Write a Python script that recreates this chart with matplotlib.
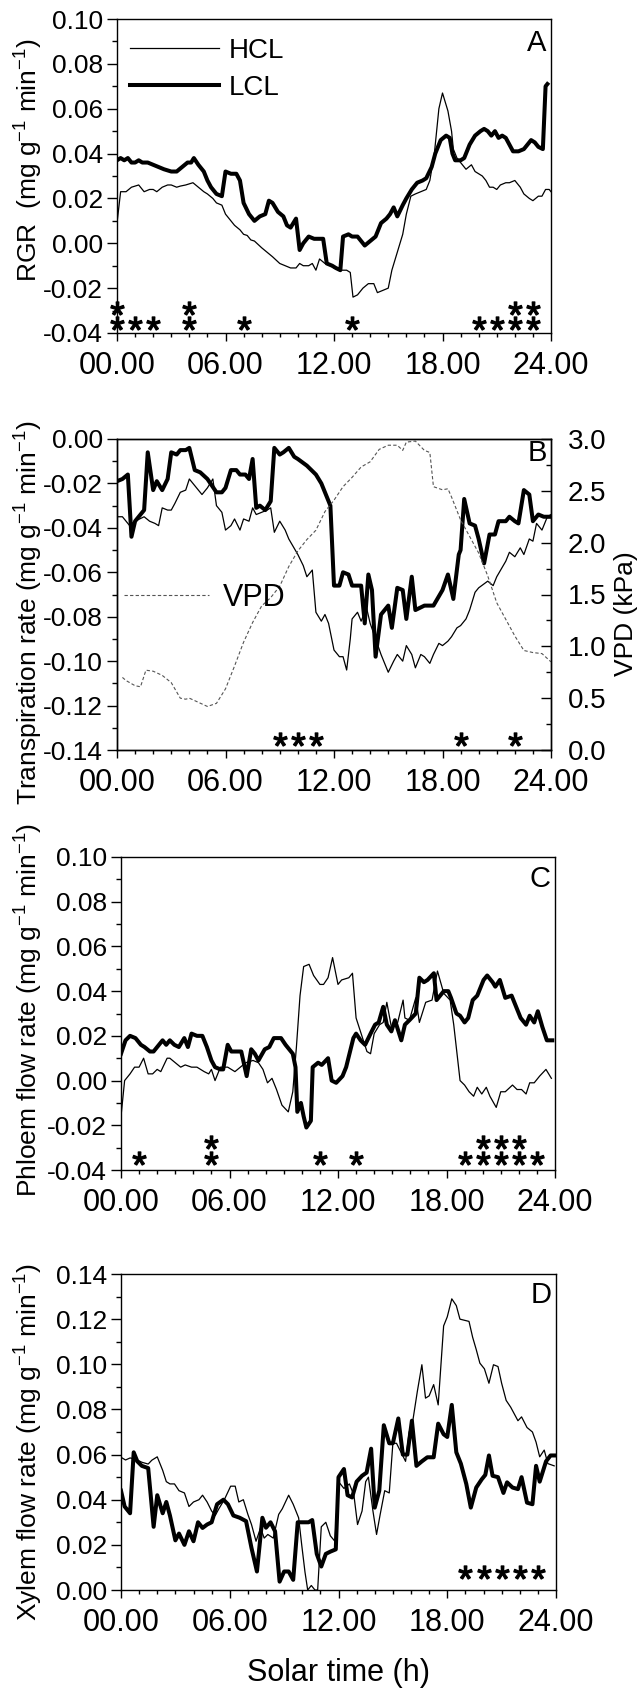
import matplotlib
matplotlib.use("Agg")
import numpy as np
import matplotlib.pyplot as plt
from matplotlib.path import Path
from matplotlib.textpath import TextPath
from matplotlib.font_manager import FontProperties
from matplotlib.ticker import MultipleLocator, FuncFormatter, FormatStrFormatter

plt.rcParams['font.family'] = ['Liberation Sans', 'DejaVu Sans']
plt.rcParams['mathtext.fontset'] = 'custom'
plt.rcParams['mathtext.rm'] = 'Liberation Sans'
plt.rcParams['mathtext.it'] = 'Liberation Sans:italic'
plt.rcParams['mathtext.bf'] = 'Liberation Sans:bold'

# ===== DATA =====
# --- A: RGR ---
A_HCL_T = [0.0, 0.2, 0.5, 0.8, 1.2, 1.5, 1.8, 2.0, 2.2, 2.5, 2.8, 3.0, 3.3, 3.5, 3.8, 4.2, 4.5, 4.8,
           5.0, 5.3, 5.5, 5.8, 6.0, 6.3, 6.5, 6.8, 7.0, 7.2, 7.4, 7.6, 8.0, 8.3, 8.6, 9.0, 9.3, 9.6,
           9.9, 10.1, 10.3, 10.6, 10.8, 11.0, 11.2, 11.5, 11.8, 12.0, 12.3, 12.7, 12.9, 13.05, 13.3,
           13.6, 13.9, 14.2, 14.4, 14.7, 15.0, 15.2, 15.5, 15.8, 16.0, 16.25, 16.5, 16.8, 17.1, 17.3,
           17.55, 17.8, 18.0, 18.3, 18.5, 18.6, 18.8, 19.0, 19.3, 19.6, 19.8, 20.0, 20.2, 20.4, 20.6,
           20.8, 21.0, 21.2, 21.5, 21.7, 22.0, 22.3, 22.5, 22.8, 23.0, 23.3, 23.5, 23.7, 23.9, 24.0]
A_HCL = [0.009, 0.023, 0.023, 0.025, 0.026, 0.023, 0.024, 0.024, 0.023, 0.025, 0.026, 0.026, 0.025,
         0.0255, 0.026, 0.027, 0.025, 0.023, 0.022, 0.020, 0.018, 0.017, 0.013, 0.010, 0.008, 0.006,
         0.004, 0.0035, 0.0015, 0.001, -0.002, -0.004, -0.006, -0.009, -0.010, -0.011, -0.011, -0.009,
         -0.010, -0.010, -0.009, -0.012, -0.007, -0.009, -0.010, -0.011, -0.012, -0.012, -0.013,
         -0.024, -0.023, -0.020, -0.018, -0.018, -0.022, -0.021, -0.020, -0.012, -0.004, 0.004, 0.013,
         0.021, 0.022, 0.023, 0.024, 0.028, 0.040, 0.060, 0.067, 0.059, 0.050, 0.042, 0.038, 0.036,
         0.033, 0.035, 0.032, 0.031, 0.030, 0.028, 0.025, 0.025, 0.024, 0.026, 0.027, 0.027, 0.028,
         0.025, 0.022, 0.020, 0.019, 0.021, 0.021, 0.024, 0.024, 0.023]
A_LCL_T = [0.0, 0.2, 0.4, 0.6, 0.8, 1.0, 1.2, 1.4, 1.7, 2.0, 2.3, 2.6, 3.0, 3.3, 3.6, 3.9, 4.1, 4.25,
           4.5, 4.8, 5.0, 5.2, 5.5, 5.8, 6.0, 6.3, 6.6, 6.8, 7.0, 7.3, 7.6, 7.9, 8.2, 8.4, 8.6, 8.9,
           9.2, 9.4, 9.6, 9.9, 10.1, 10.3, 10.6, 10.9, 11.2, 11.4, 11.6, 11.9, 12.1, 12.35, 12.5, 12.8,
           13.0, 13.3, 13.7, 14.0, 14.3, 14.6, 14.9, 15.1, 15.3, 15.5, 15.8, 16.0, 16.3, 16.6, 16.9,
           17.1, 17.4, 17.6, 17.9, 18.2, 18.4, 18.55, 18.7, 19.0, 19.2, 19.5, 19.8, 20.1, 20.3, 20.5,
           20.7, 20.9, 21.1, 21.3, 21.5, 21.7, 21.9, 22.2, 22.5, 22.7, 22.9, 23.1, 23.3, 23.55, 23.7,
           23.8]
A_LCL = [0.037, 0.038, 0.037, 0.038, 0.036, 0.036, 0.037, 0.036, 0.036, 0.035, 0.034, 0.033, 0.032,
         0.032, 0.034, 0.036, 0.036, 0.038, 0.035, 0.032, 0.028, 0.025, 0.022, 0.021, 0.032, 0.031,
         0.031, 0.028, 0.018, 0.013, 0.010, 0.012, 0.013, 0.019, 0.018, 0.014, 0.012, 0.008, 0.007,
         0.011, -0.003, 0.000, 0.003, 0.002, 0.002, 0.002, -0.009, -0.010, -0.011, -0.012, 0.003,
         0.004, 0.003, 0.003, -0.001, 0.001, 0.003, 0.009, 0.011, 0.013, 0.016, 0.012, 0.017, 0.020,
         0.024, 0.027, 0.028, 0.029, 0.034, 0.040, 0.046, 0.048, 0.047, 0.040, 0.037, 0.037, 0.038,
         0.044, 0.048, 0.050, 0.051, 0.050, 0.048, 0.050, 0.047, 0.048, 0.047, 0.044, 0.041, 0.041,
         0.042, 0.044, 0.046, 0.045, 0.043, 0.042, 0.070, 0.071]

# --- B: transpiration + VPD ---
B_HCL_T = [0.0, 0.3, 0.7, 1.0, 1.5, 1.8, 2.1, 2.3, 2.5, 2.8, 3.0, 3.2, 3.5, 3.8, 4.0, 4.3, 4.7, 5.0,
           5.3, 5.5, 5.8, 6.0, 6.3, 6.5, 6.8, 7.0, 7.3, 7.5, 7.7, 8.0, 8.3, 8.5, 8.7, 9.0, 9.3, 9.5,
           10.0, 10.3, 10.5, 10.8, 11.0, 11.3, 11.5, 11.7, 12.0, 12.3, 12.5, 12.7, 12.9, 13.0, 13.3,
           13.5, 13.8, 14.0, 14.3, 14.6, 15.0, 15.3, 15.5, 15.8, 16.0, 16.3, 16.5, 16.8, 17.0, 17.3,
           17.5, 17.8, 18.0, 18.3, 18.5, 18.8, 19.0, 19.3, 19.5, 19.8, 20.0, 20.5, 20.8, 21.0, 21.5,
           21.7, 22.0, 22.3, 22.5, 22.8, 23.0, 23.2, 23.5, 23.8, 24.0]
B_HCL = [-0.035, -0.035, -0.039, -0.037, -0.035, -0.037, -0.038, -0.039, -0.031, -0.032, -0.032,
         -0.029, -0.024, -0.023, -0.018, -0.021, -0.025, -0.022, -0.018, -0.030, -0.033, -0.041,
         -0.039, -0.036, -0.041, -0.036, -0.037, -0.031, -0.034, -0.033, -0.032, -0.031, -0.042,
         -0.037, -0.041, -0.045, -0.052, -0.057, -0.062, -0.059, -0.078, -0.082, -0.079, -0.083,
         -0.095, -0.098, -0.098, -0.104, -0.090, -0.081, -0.078, -0.082, -0.076, -0.083, -0.090,
         -0.097, -0.105, -0.100, -0.097, -0.100, -0.093, -0.097, -0.103, -0.097, -0.098, -0.101,
         -0.097, -0.092, -0.093, -0.091, -0.089, -0.085, -0.084, -0.081, -0.077, -0.069, -0.067,
         -0.064, -0.066, -0.062, -0.055, -0.051, -0.053, -0.049, -0.052, -0.045, -0.046, -0.038,
         -0.041, -0.035, -0.034]
B_LCL_T = [0.0, 0.3, 0.6, 0.8, 1.0, 1.5, 1.7, 2.0, 2.2, 2.5, 2.8, 3.0, 3.3, 3.5, 3.8, 4.0, 4.3, 4.6,
           5.0, 5.5, 5.8, 6.0, 6.3, 6.6, 6.8, 7.1, 7.3, 7.5, 7.7, 7.9, 8.2, 8.5, 8.7, 9.0, 9.2, 9.5,
           9.8, 10.0, 10.5, 11.0, 11.3, 11.5, 11.8, 12.0, 12.3, 12.5, 12.8, 13.0, 13.3, 13.5, 13.7,
           13.9, 14.1, 14.3, 14.6, 15.0, 15.2, 15.5, 15.8, 16.0, 16.3, 16.5, 17.0, 17.5, 18.0, 18.3,
           18.6, 18.9, 19.0, 19.2, 19.5, 19.8, 20.0, 20.3, 20.6, 20.9, 21.1, 21.5, 21.7, 22.0, 22.2,
           22.5, 22.8, 23.0, 23.3, 23.6, 24.0]
B_LCL = [-0.019, -0.018, -0.016, -0.044, -0.037, -0.032, -0.006, -0.023, -0.019, -0.023, -0.018,
         -0.006, -0.007, -0.005, -0.005, -0.004, -0.014, -0.015, -0.018, -0.024, -0.024, -0.022,
         -0.014, -0.014, -0.016, -0.016, -0.018, -0.009, -0.031, -0.030, -0.032, -0.028, -0.004,
         -0.007, -0.006, -0.004, -0.008, -0.009, -0.012, -0.016, -0.020, -0.024, -0.030, -0.066,
         -0.066, -0.060, -0.061, -0.066, -0.066, -0.066, -0.083, -0.061, -0.068, -0.098, -0.079,
         -0.075, -0.085, -0.067, -0.068, -0.081, -0.062, -0.077, -0.075, -0.075, -0.068, -0.061,
         -0.072, -0.052, -0.050, -0.027, -0.038, -0.039, -0.045, -0.056, -0.043, -0.043, -0.037,
         -0.037, -0.035, -0.037, -0.038, -0.023, -0.025, -0.037, -0.034, -0.035, -0.035]
VPD_T = [0.3, 0.5, 1.0, 1.3, 1.6, 2.0, 2.5, 3.0, 3.5, 3.8, 4.0, 4.5, 5.0, 5.5, 6.0, 6.5, 7.0, 7.5,
         8.0, 8.5, 9.0, 9.5, 10.0, 10.5, 11.0, 11.5, 12.0, 12.5, 13.0, 13.5, 14.0, 14.5, 15.0, 15.5,
         15.8, 16.0, 16.5, 17.0, 17.3, 17.5, 18.0, 18.3, 18.5, 19.0, 19.5, 20.0, 20.5, 21.0, 21.5,
         22.0, 22.5, 23.0, 23.5, 24.0]
VPD = [0.70, 0.67, 0.62, 0.61, 0.77, 0.76, 0.72, 0.65, 0.50, 0.49, 0.50, 0.46, 0.42, 0.45, 0.59,
       0.81, 1.04, 1.23, 1.39, 1.47, 1.58, 1.77, 1.92, 2.03, 2.12, 2.30, 2.41, 2.54, 2.63, 2.73,
       2.78, 2.90, 2.94, 2.94, 2.89, 2.97, 2.98, 2.89, 2.87, 2.54, 2.51, 2.52, 2.44, 2.22, 2.06,
       1.90, 1.68, 1.42, 1.26, 1.10, 0.96, 0.94, 0.93, 0.85]

# --- C: phloem flow ---
C_HCL_T = [0.0, 0.2, 0.5, 0.75, 1.0, 1.25, 1.5, 1.75, 2.0, 2.2, 2.55, 2.7, 3.0, 3.3, 3.55, 3.9, 4.2,
           4.6, 4.85, 5.0, 5.2, 5.5, 5.9, 6.3, 6.6, 6.9, 7.3, 7.6, 7.85, 8.1, 8.35, 8.6, 8.9, 9.25,
           9.5, 9.7, 9.9, 10.1, 10.4, 10.65, 11.0, 11.2, 11.45, 11.7, 12.0, 12.2, 12.6, 12.8, 13.0,
           13.6, 13.8, 14.0, 14.3, 14.5, 14.7, 14.95, 15.3, 15.6, 15.7, 15.95, 16.3, 16.5, 16.85,
           17.2, 17.5, 17.85, 18.2, 18.4, 18.75, 19.0, 19.25, 19.5, 19.7, 19.95, 20.2, 20.4, 20.75,
           21.0, 21.25, 21.65, 21.9, 22.15, 22.4, 22.6, 22.85, 23.15, 23.5, 23.8]
C_HCL = [-0.016, 0.000, 0.003, 0.006, 0.006, 0.010, 0.003, 0.003, 0.005, 0.004, 0.010, 0.010,
         0.008, 0.006, 0.007, 0.006, 0.006, 0.004, 0.003, 0.005, 0.000, 0.006, 0.006, 0.004, 0.006,
         0.008, 0.009, 0.008, 0.005, -0.001, 0.001, -0.004, -0.011, -0.014, -0.005, 0.015, 0.038,
         0.051, 0.052, 0.047, 0.043, 0.043, 0.046, 0.055, 0.043, 0.045, 0.046, 0.048, 0.028, 0.013,
         0.012, 0.021, 0.025, 0.026, 0.035, 0.024, 0.026, 0.036, 0.028, 0.027, 0.037, 0.026, 0.035,
         0.036, 0.049, 0.039, 0.036, 0.025, 0.000, -0.002, -0.005, -0.007, -0.003, -0.006, -0.003,
         -0.007, -0.012, -0.005, -0.005, -0.002, -0.004, -0.004, -0.006, -0.001, -0.001, 0.002,
         0.005, 0.001]
C_LCL_T = [0.0, 0.25, 0.5, 0.8, 1.1, 1.3, 1.6, 1.8, 2.1, 2.3, 2.5, 2.7, 2.95, 3.2, 3.5, 3.7, 3.9,
           4.2, 4.5, 4.75, 5.0, 5.2, 5.5, 5.65, 5.9, 6.1, 6.4, 6.65, 6.95, 7.2, 7.4, 7.6, 7.95, 8.2,
           8.45, 8.6, 8.85, 9.1, 9.3, 9.5, 9.65, 9.75, 9.95, 10.1, 10.25, 10.5, 10.6, 10.9, 11.1,
           11.45, 11.65, 11.9, 12.25, 12.45, 12.85, 13.0, 13.25, 13.5, 13.8, 14.05, 14.25, 14.5,
           14.7, 14.95, 15.15, 15.5, 15.7, 15.95, 16.3, 16.5, 16.75, 16.95, 17.3, 17.45, 17.85, 18.1,
           18.25, 18.55, 18.75, 19.0, 19.2, 19.45, 19.7, 20.05, 20.25, 20.55, 20.7, 20.95, 21.25,
           21.6, 22.1, 22.4, 22.6, 22.85, 23.05, 23.3, 23.55, 23.85]
C_LCL = [0.012, 0.018, 0.020, 0.019, 0.016, 0.015, 0.013, 0.013, 0.016, 0.018, 0.016, 0.018, 0.016,
         0.015, 0.019, 0.015, 0.021, 0.020, 0.020, 0.015, 0.009, 0.006, 0.005, 0.005, 0.016, 0.013,
         0.013, 0.013, 0.002, 0.014, 0.012, 0.009, 0.014, 0.015, 0.019, 0.019, 0.019, 0.016, 0.014,
         0.012, 0.006, -0.014, -0.010, -0.016, -0.021, -0.018, 0.006, 0.008, 0.007, 0.010, 0.000,
         -0.001, 0.002, 0.006, 0.019, 0.021, 0.018, 0.016, 0.021, 0.025, 0.026, 0.033, 0.025, 0.022,
         0.027, 0.018, 0.025, 0.027, 0.030, 0.046, 0.044, 0.045, 0.048, 0.036, 0.040, 0.040, 0.037,
         0.030, 0.029, 0.026, 0.028, 0.036, 0.038, 0.045, 0.047, 0.044, 0.042, 0.045, 0.037, 0.038,
         0.028, 0.025, 0.029, 0.026, 0.031, 0.024, 0.018, 0.018]

# --- D: xylem flow ---
D_HCL_T = [0.0, 0.25, 0.5, 0.8, 1.15, 1.5, 1.7, 2.0, 2.3, 2.5, 2.7, 2.95, 3.2, 3.5, 3.75, 4.0, 4.3,
           4.5, 4.75, 5.0, 5.2, 5.4, 5.7, 6.05, 6.3, 6.5, 6.75, 7.0, 7.2, 7.45, 7.7, 7.9, 8.1, 8.4,
           8.7, 8.9, 9.25, 9.5, 9.8, 9.97, 10.15, 10.3, 10.5, 10.7, 10.85, 11.05, 11.3, 11.55, 11.8,
           12.0, 12.3, 12.6, 12.85, 13.05, 13.3, 13.5, 13.65, 13.9, 14.1, 14.3, 14.55, 14.8, 15.0,
           15.2, 15.45, 15.7, 15.9, 16.1, 16.35, 16.6, 16.8, 17.0, 17.25, 17.5, 17.8, 18.0, 18.25,
           18.5, 18.7, 18.95, 19.2, 19.4, 19.6, 19.8, 20.05, 20.3, 20.55, 20.8, 21.0, 21.25, 21.5,
           21.7, 21.9, 22.1, 22.4, 22.7, 22.9, 23.1, 23.35, 23.55, 23.9]
D_HCL = [0.0588, 0.0576, 0.0585, 0.058, 0.0566, 0.0558, 0.0575, 0.059, 0.053, 0.048, 0.047, 0.047,
         0.044, 0.043, 0.037, 0.039, 0.040, 0.042, 0.039, 0.035, 0.033, 0.036, 0.040, 0.046, 0.046,
         0.039, 0.040, 0.0335, 0.029, 0.0216, 0.0275, 0.023, 0.0246, 0.023, 0.0335, 0.036, 0.042,
         0.038, 0.032, 0.020, 0.008, 0.000, 0.002, 0.000, 0.000, 0.028, 0.030, 0.024, 0.0216, 0.048,
         0.045, 0.047, 0.042, 0.029, 0.035, 0.048, 0.050, 0.035, 0.0246, 0.0335, 0.044, 0.043,
         0.065, 0.065, 0.061, 0.057, 0.070, 0.075, 0.088, 0.0998, 0.085, 0.086, 0.091, 0.082, 0.117,
         0.121, 0.129, 0.126, 0.120, 0.1195, 0.119, 0.112, 0.1065, 0.1005, 0.098, 0.0916, 0.0998,
         0.099, 0.0916, 0.084, 0.081, 0.078, 0.075, 0.0767, 0.072, 0.070, 0.0655, 0.059, 0.062,
         0.056, 0.055]
D_LCL_T = [0.0, 0.2, 0.5, 0.7, 0.9, 1.15, 1.5, 1.8, 2.0, 2.3, 2.5, 2.7, 3.0, 3.2, 3.5, 3.75, 4.0,
           4.25, 4.5, 4.75, 5.0, 5.3, 5.65, 5.9, 6.2, 6.55, 6.9, 7.2, 7.5, 7.8, 8.0, 8.25, 8.5, 8.75,
           9.0, 9.25, 9.5, 9.75, 10.05, 10.35, 10.55, 10.8, 11.05, 11.3, 11.55, 11.85, 12.0, 12.3,
           12.5, 12.75, 13.0, 13.3, 13.55, 13.8, 14.0, 14.25, 14.5, 14.8, 15.0, 15.3, 15.55, 15.8,
           16.05, 16.3, 16.6, 16.9, 17.25, 17.5, 17.8, 18.0, 18.25, 18.5, 18.75, 19.05, 19.3, 19.6,
           19.9, 20.1, 20.3, 20.5, 20.8, 21.1, 21.3, 21.6, 21.9, 22.1, 22.4, 22.7, 22.9, 23.1, 23.45,
           23.7, 24.0]
D_LCL = [0.044, 0.037, 0.034, 0.061, 0.057, 0.055, 0.054, 0.028, 0.042, 0.034, 0.039, 0.033, 0.022,
         0.025, 0.020, 0.026, 0.0216, 0.030, 0.0275, 0.029, 0.030, 0.038, 0.040, 0.038, 0.033, 0.032,
         0.0305, 0.0186, 0.0082, 0.032, 0.0276, 0.030, 0.026, 0.0037, 0.0082, 0.0082, 0.0045, 0.030,
         0.030, 0.030, 0.031, 0.016, 0.0104, 0.016, 0.017, 0.018, 0.050, 0.0536, 0.042, 0.041, 0.048,
         0.0506, 0.052, 0.0626, 0.0365, 0.044, 0.073, 0.065, 0.065, 0.076, 0.060, 0.060, 0.075,
         0.055, 0.057, 0.0588, 0.0588, 0.0737, 0.069, 0.0678, 0.082, 0.061, 0.056, 0.047, 0.0365,
         0.0454, 0.049, 0.051, 0.0596, 0.0506, 0.050, 0.043, 0.0477, 0.0454, 0.0447, 0.050, 0.0387,
         0.038, 0.055, 0.048, 0.057, 0.0596, 0.0596]

# significance marks: hours of each asterisk row, and the row level
A_STARS_LOW = [0, 1, 2, 4, 7, 13, 20, 21, 22, 23]
A_STARS_HIGH = [0, 4, 22, 23]
B_STARS = [9, 10, 11, 19, 22]
C_STARS_LOW = [1, 5, 11, 13, 19, 20, 21, 22, 23]
C_STARS_HIGH = [5, 20, 21, 22]
D_STARS = [19, 20, 21, 22, 23]

UNITS = "(mg g$^{-1}$ min$^{-1}$)"

# ===== STYLE =====
THIN = 0.9
THICK = 2.9
STAR_MS = 9.5
XTICK_FS = 22
YTICK_FS = 19
LABEL_FS = 19

# asterisk glyph as a centred marker path (closepoly points moved to centre so
# marker scaling uses the ink size only)
_tp = TextPath((0, 0), "*", size=1, prop=FontProperties(family="Liberation Sans"))
_codes = np.asarray(_tp.codes)
_ink = _tp.vertices[_codes != Path.CLOSEPOLY]
_c = (_ink.min(axis=0) + _ink.max(axis=0)) / 2
_verts = _tp.vertices - _c
_verts[_codes == Path.CLOSEPOLY] = 0
STAR = Path(_verts, _codes)


def setup_axis(ax, ylo, yhi):
    ax.set_xlim(0, 24)
    ax.set_ylim(ylo, yhi)
    ax.xaxis.set_major_locator(MultipleLocator(6))
    ax.xaxis.set_minor_locator(MultipleLocator(1))
    ax.yaxis.set_major_locator(MultipleLocator(0.02))
    ax.yaxis.set_minor_locator(MultipleLocator(0.01))
    ax.xaxis.set_major_formatter(FuncFormatter(lambda v, p: f"{int(round(v)):02d}.00"))
    ax.yaxis.set_major_formatter(FormatStrFormatter("%.2f"))
    ax.tick_params(axis="both", which="both", direction="out", top=False, right=False, width=1.0)
    ax.tick_params(axis="x", which="major", length=6, labelsize=XTICK_FS, pad=7)
    ax.tick_params(axis="x", which="minor", length=3)
    ax.tick_params(axis="y", which="major", length=7, labelsize=YTICK_FS, pad=3)
    ax.tick_params(axis="y", which="minor", length=3.5)
    for s in ax.spines.values():
        s.set_linewidth(1.0)


def add_stars(ax, hours, level):
    ax.plot(hours, [level] * len(hours), ls="none", marker=STAR, ms=STAR_MS,
            color="black", clip_on=False, zorder=5)


def panel_letter(ax, letter, y):
    ax.text(0.99, y, letter, transform=ax.transAxes, fontsize=21, ha="right", va="center")


fig = plt.figure(figsize=(6.37, 16.89), dpi=100)

# ===== A =====
axA = fig.add_axes([117 / 637, 1 - 333 / 1689, 434 / 637, 314 / 1689])
setup_axis(axA, -0.04, 0.10)
axA.plot(A_HCL_T, A_HCL, color="black", lw=THIN, label="HCL")
axA.plot(A_LCL_T, A_LCL, color="black", lw=THICK, label="LCL")
axA.legend(loc="upper left", bbox_to_anchor=(0.03, 0.94), frameon=False, fontsize=20,
           handlelength=3.2, handletextpad=0.35, labelspacing=0.4, borderpad=0, borderaxespad=0)
add_stars(axA, A_STARS_LOW, -0.0355)
add_stars(axA, A_STARS_HIGH, -0.0289)
axA.set_ylabel("RGR  " + UNITS, fontsize=LABEL_FS)
axA.yaxis.set_label_coords(-0.165, 0.55)
panel_letter(axA, "A", 0.925)

# ===== B =====
axB = fig.add_axes([117 / 637, 1 - 750 / 1689, 434 / 637, 311 / 1689])
setup_axis(axB, -0.14, 0.0)
axB.plot(B_HCL_T, B_HCL, color="black", lw=THIN)
axB.plot(B_LCL_T, B_LCL, color="black", lw=THICK)
add_stars(axB, B_STARS, -0.135)
axB.set_ylabel("Transpiration rate " + UNITS, fontsize=LABEL_FS)
axB.yaxis.set_label_coords(-0.165, 0.44)

axV = axB.twinx()
axV.set_ylim(0, 3.0)
axV.yaxis.set_major_locator(MultipleLocator(0.5))
axV.yaxis.set_minor_locator(MultipleLocator(0.25))
axV.yaxis.set_major_formatter(FormatStrFormatter("%.1f"))
axV.tick_params(axis="y", which="both", direction="in", width=1.0, labelsize=20, pad=12)
axV.tick_params(axis="y", which="major", length=7)
axV.tick_params(axis="y", which="minor", length=3.5)
for s in axV.spines.values():
    s.set_linewidth(1.0)
vpd_line, = axV.plot(VPD_T, VPD, color="#555555", lw=0.8, ls=(0, (3, 2)), label="VPD")
axV.legend(handles=[vpd_line], loc="center left", bbox_to_anchor=(0.015, 0.49), frameon=False,
           fontsize=22, handlelength=2.8, handletextpad=0.45, borderpad=0, borderaxespad=0)
axV.set_ylabel("VPD (kPa)", fontsize=LABEL_FS)
axV.yaxis.set_label_coords(1.145, 0.44)
panel_letter(axV, "B", 0.955)

# ===== C =====
axC = fig.add_axes([121 / 637, 1 - 1170 / 1689, 434 / 637, 313 / 1689])
setup_axis(axC, -0.04, 0.10)
axC.plot(C_HCL_T, C_HCL, color="black", lw=THIN)
axC.plot(C_LCL_T, C_LCL, color="black", lw=THICK)
add_stars(axC, C_STARS_LOW, -0.0348)
add_stars(axC, C_STARS_HIGH, -0.0273)
axC.set_ylabel("Phloem flow rate " + UNITS, fontsize=LABEL_FS)
axC.yaxis.set_label_coords(-0.175, 0.51)
panel_letter(axC, "C", 0.93)

# ===== D =====
axD = fig.add_axes([121 / 637, 1 - 1590 / 1689, 435 / 637, 316 / 1689])
setup_axis(axD, 0.0, 0.14)
axD.plot(D_HCL_T, D_HCL, color="black", lw=THIN)
axD.plot(D_LCL_T, D_LCL, color="black", lw=THICK)
add_stars(axD, D_STARS, 0.008)
axD.set_ylabel("Xylem flow rate " + UNITS, fontsize=LABEL_FS)
axD.yaxis.set_label_coords(-0.175, 0.47)
axD.set_xlabel("Solar time (h)", fontsize=22, labelpad=14)
panel_letter(axD, "D", 0.935)

fig.savefig("out.png", dpi=100)
